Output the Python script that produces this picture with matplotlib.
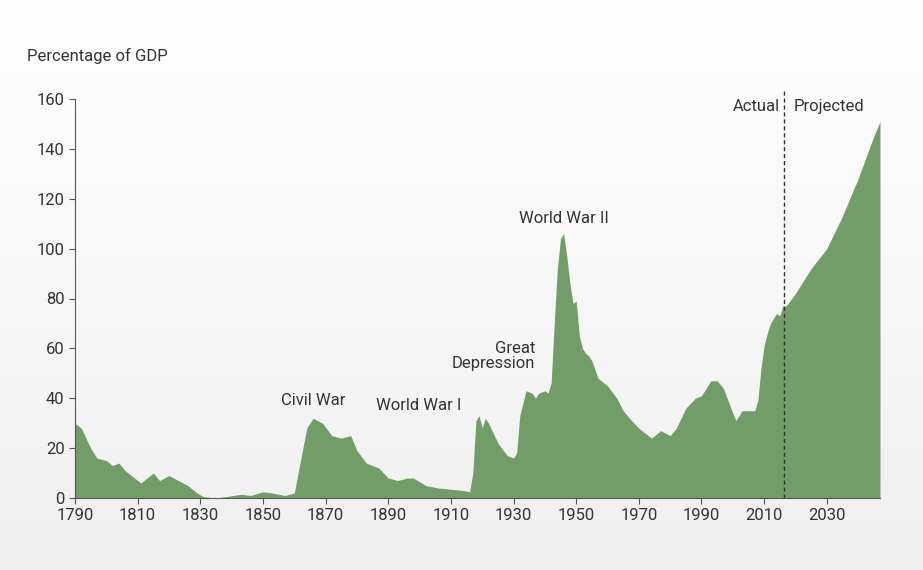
import matplotlib
matplotlib.use("Agg")
import matplotlib.pyplot as plt
import numpy as np
plt.rcParams["font.family"] = "Roboto"

years = [1790,1792,1795,1797,1800,1802,1804,1806,1808,1811,1813,1815,1817,1820,1823,1826,1829,1831,1835,1838,1843,1846,1850,1853,1857,1860,1862,1864,1866,1869,1872,1875,1878,1880,1883,1887,1890,1893,1896,1898,1902,1906,1910,1914,1916,1917,1918,1919,1920,1921,1922,1925,1928,1930,1931,1932,1934,1936,1937,1938,1940,1941,1942,1943,1944,1945,1946,1947,1948,1949,1950,1951,1952,1953,1954,1955,1957,1960,1963,1965,1967,1970,1974,1975,1977,1980,1982,1985,1988,1990,1993,1995,1997,2000,2001,2003,2005,2007,2008,2009,2010,2011,2012,2014,2015,2016,2017,2020,2025,2030,2035,2040,2045,2047]
debt = [30,28,20,16,15,13,14,11,9,6,8,10,7,9,7,5,2,0.5,0,0.5,1.5,1,2.5,2,1,2,15,28,32,30,25,24,25,19,14,12,8,7,8,8,5,4,3.5,3,2.5,10,31,33,28,32,30,22,17,16,18,33,43,42,40,42,43,42,46,70,92,104,106,97,86,78,79,65,60,58,57,55,48,45,40,35,32,28,24,25,27,25,28,36,40,41,47,47,44,34,31,35,35,35,39,52,61,66,70,74,73,77,77,82,92,100,113,128,145,151]
xticks = list(range(1790, 2031, 20))
yticks = list(range(0, 161, 20))
annotations = [("Civil War",1866,36,"center"),("World War I",1913.5,34,"right"),("Great\nDepression",1937,51,"right"),("World War II",1946,109,"center")]

W, H = 923, 570
fig = plt.figure(figsize=(W/100, H/100), dpi=100)
bg = fig.add_axes([0,0,1,1]); bg.axis("off")
grad = np.linspace(1, 0.94, 256).reshape(-1,1)
bg.imshow(np.dstack([grad,grad,grad]), aspect="auto", extent=[0,1,0,1], origin="upper")

ax = fig.add_axes([75/W, 72/H, (880-75)/W, (498-99)/H])
ax.patch.set_alpha(0)
ax.fill_between(years, debt, 0, color="#729d68", lw=0)
ax.set_xlim(1790, 2047); ax.set_ylim(0, 160)
ax.set_xticks(xticks); ax.set_yticks(yticks)
for s in ["top","right"]: ax.spines[s].set_visible(False)
for s in ["left","bottom"]: ax.spines[s].set_color("#555")
ax.tick_params(colors="#333", labelsize=12, length=4, color="#555")
ax.axvline(2016.5, 0, 1.02, ls=(0,(3,2)), color="#333", lw=1, clip_on=False)
ax.text(2015, 157, "Actual", ha="right", va="center", fontsize=12, color="#333")
ax.text(2019.5, 157, "Projected", ha="left", va="center", fontsize=12, color="#333")
for t, x, y, ha in annotations:
    ax.text(x, y, t, ha=ha, va="bottom", fontsize=12, color="#333", linespacing=1.0, multialignment="right")
fig.text(27/W, 1-56/H, "Percentage of GDP", fontsize=12, color="#333", va="center")
fig.savefig("out.png", dpi=100)
